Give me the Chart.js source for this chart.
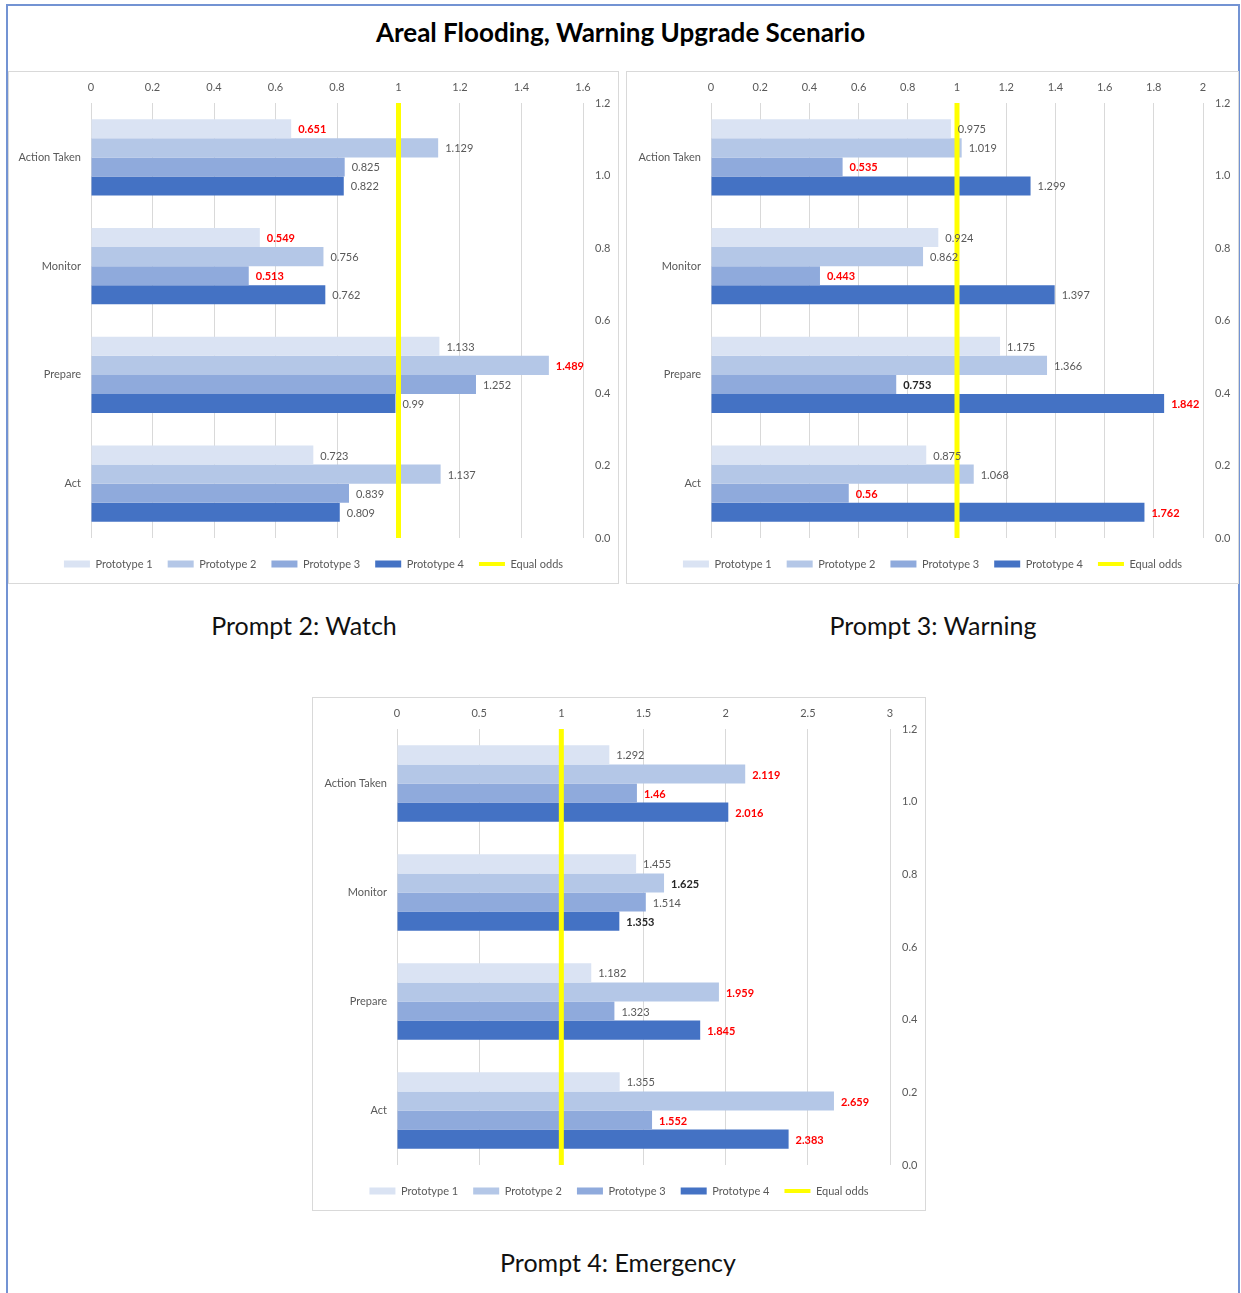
<!DOCTYPE html>
<html>
<head>
<meta charset="utf-8">
<title>Areal Flooding, Warning Upgrade Scenario</title>
<script src="https://cdn.jsdelivr.net/npm/chart.js@4.4.1/dist/chart.umd.min.js"></script>
<style>
    body { margin: 0; background: #fff; font-family: Lato, "Noto Sans", sans-serif; }
    #frame { position: absolute; left: 6px; top: 4px; width: 1234px; height: 1300px; border: 2px solid #7393d3; box-sizing: border-box; }
    .title { position: absolute; left: 0; top: 16px; width: 1241px; text-align: center; font-weight: bold; font-size: 26px; color: #000; }
    .box { position: absolute; border: 1px solid #d9d9d9; background: #fff; }
    .box canvas { display: block; }
    .caption { position: absolute; width: 400px; text-align: center; font-size: 25px; color: #111; }
</style>
</head>
<body>
<div id="frame"></div>
<div class="title">Areal Flooding, Warning Upgrade Scenario</div>

<div class="box" style="left:8px; top:71px;"><canvas id="watchChart" width="609" height="511"></canvas></div>
<div class="box" style="left:626px; top:71px;"><canvas id="warningChart" width="611" height="511"></canvas></div>
<div class="box" style="left:312px; top:697px;"><canvas id="emergencyChart" width="612" height="512"></canvas></div>

<div class="caption" style="left:104px; top:610px;">Prompt 2: Watch</div>
<div class="caption" style="left:733px; top:610px;">Prompt 3: Warning</div>
<div class="caption" style="left:418px; top:1247px;">Prompt 4: Emergency</div>

<script>
// --- Dữ liệu ---
const categories = ['Action Taken', 'Monitor', 'Prepare', 'Act'];
const seriesNames = ['Prototype 1', 'Prototype 2', 'Prototype 3', 'Prototype 4'];

// Prompt 2: Watch
const watchP1 = [0.651, 0.549, 1.133, 0.723];
const watchP2 = [1.129, 0.756, 1.489, 1.137];
const watchP3 = [0.825, 0.513, 1.252, 0.839];
const watchP4 = [0.822, 0.762, 0.99, 0.809];

// Prompt 3: Warning
const warningP1 = [0.975, 0.924, 1.175, 0.875];
const warningP2 = [1.019, 0.862, 1.366, 1.068];
const warningP3 = [0.535, 0.443, 0.753, 0.56];
const warningP4 = [1.299, 1.397, 1.842, 1.762];

// Prompt 4: Emergency
const emergencyP1 = [1.292, 1.455, 1.182, 1.355];
const emergencyP2 = [2.119, 1.625, 1.959, 2.659];
const emergencyP3 = [1.46, 1.514, 1.323, 1.552];
const emergencyP4 = [2.016, 1.353, 1.845, 2.383];

// nhãn nhấn mạnh: 'r' = đỏ đậm, 'b' = đen đậm, '' = thường (theo từng Prototype)
const watchMarks = [['r', 'r', '', ''], ['', '', 'r', ''], ['', 'r', '', ''], ['', '', '', '']];
const warningMarks = [['', '', '', ''], ['', '', '', ''], ['r', 'r', 'b', 'r'], ['', '', 'r', 'r']];
const emergencyMarks = [['', '', '', ''], ['r', 'b', 'r', 'r'], ['r', '', '', 'r'], ['r', 'b', 'r', 'r']];

// Trục
const watchTicks = [0, 0.2, 0.4, 0.6, 0.8, 1, 1.2, 1.4, 1.6];
const warningTicks = [0, 0.2, 0.4, 0.6, 0.8, 1, 1.2, 1.4, 1.6, 1.8, 2];
const emergencyTicks = [0, 0.5, 1, 1.5, 2, 2.5, 3];
const rightTicks = [0, 0.2, 0.4, 0.6, 0.8, 1.0, 1.2];

// Đường "Equal odds"
const equalOddsX = 1;
const equalOddsY = [0, 1.2];

const barColors = ['#dae3f3', '#b4c7e7', '#8faadc', '#4472c4'];
const textGray = '#595959';
const FONT = 'Lato, "Noto Sans", sans-serif';

// Vẽ nhãn giá trị ở cuối mỗi thanh
const valueLabels = {
    id: 'valueLabels',
    afterDatasetsDraw(chart) {
        const ctx = chart.ctx;
        chart.data.datasets.forEach((ds, i) => {
            if (ds.type !== 'bar') return;
            const meta = chart.getDatasetMeta(i);
            meta.data.forEach((bar, j) => {
                const mark = ds.marks[j];
                ctx.save();
                ctx.font = (mark ? 'bold ' : '') + '11px ' + FONT;
                ctx.fillStyle = mark === 'r' ? '#ff0000' : (mark === 'b' ? '#262626' : textGray);
                ctx.textBaseline = 'middle';
                ctx.textAlign = 'left';
                ctx.fillText(String(ds.data[j]), bar.x + 7, bar.y + 1);
                ctx.restore();
            });
        });
    }
};

function makeChart(id, series, marks, ticks, leftWidth) {
    const datasets = series.map((vals, k) => ({
        type: 'bar',
        label: seriesNames[k],
        data: vals,
        marks: marks[k],
        backgroundColor: barColors[k],
        borderWidth: 0,
        pointStyle: 'rect',
        indexAxis: 'y',
        xAxisID: 'x',
        yAxisID: 'y',
        categoryPercentage: 0.7,
        barPercentage: 1.0
    }));
    datasets.push({
        type: 'line',
        label: 'Equal odds',
        data: equalOddsY.map(v => ({ x: equalOddsX, y: v })),
        borderColor: '#ffff00',
        backgroundColor: '#ffff00',
        borderWidth: 5,
        pointRadius: 0,
        pointStyle: 'line',
        pointBorderColor: '#ffff00',
        pointBorderWidth: 4,
        xAxisID: 'x',
        yAxisID: 'y2',
        order: -1 // vẽ đè lên các thanh
    });

    return new Chart(document.getElementById(id), {
        data: { labels: categories, datasets: datasets },
        options: {
            responsive: false,
            animation: false,
            layout: { padding: { top: 0, bottom: 3.5, left: 0, right: 0 } },
            scales: {
                x: {
                    type: 'linear',
                    position: 'top',
                    min: 0,
                    max: ticks[ticks.length - 1],
                    afterBuildTicks: s => { s.ticks = ticks.map(v => ({ value: v })); },
                    grid: { color: '#d9d9d9', drawTicks: false },
                    border: { display: false },
                    ticks: { color: textGray, font: { family: FONT, size: 11 }, padding: 9, callback: v => String(v) },
                    afterFit: s => { s.height = 31; }
                },
                y: {
                    type: 'category',
                    position: 'left',
                    grid: { display: false, drawTicks: false },
                    border: { display: false },
                    ticks: { color: textGray, font: { family: FONT, size: 11 }, padding: 10 },
                    afterFit: s => { s.width = leftWidth; }
                },
                y2: {
                    type: 'linear',
                    position: 'right',
                    min: 0,
                    max: 1.2,
                    afterBuildTicks: s => { s.ticks = rightTicks.map(v => ({ value: v })); },
                    grid: { display: false, drawTicks: false },
                    border: { display: false },
                    ticks: { color: textGray, font: { family: FONT, size: 11 }, padding: 12, callback: v => Number(v).toFixed(1) },
                    afterFit: s => { s.width = 35; }
                }
            },
            plugins: {
                legend: {
                    position: 'bottom',
                    // tiêu đề rỗng chỉ để đẩy chú thích xuống vài px
                    title: { display: true, text: ' ', font: { size: 1 }, padding: 2.15 },
                    labels: {
                        color: textGray,
                        font: { family: FONT, size: 11 },
                        usePointStyle: true,
                        pointStyleWidth: 26,
                        boxHeight: 7,
                        padding: 15,
                        sort: (a, b) => a.datasetIndex - b.datasetIndex
                    }
                },
                tooltip: { enabled: false }
            }
        },
        plugins: [valueLabels]
    });
}

makeChart('watchChart', [watchP1, watchP2, watchP3, watchP4], watchMarks, watchTicks, 82);
makeChart('warningChart', [warningP1, warningP2, warningP3, warningP4], warningMarks, warningTicks, 84);
makeChart('emergencyChart', [emergencyP1, emergencyP2, emergencyP3, emergencyP4], emergencyMarks, emergencyTicks, 84);
</script>
</body>
</html>
